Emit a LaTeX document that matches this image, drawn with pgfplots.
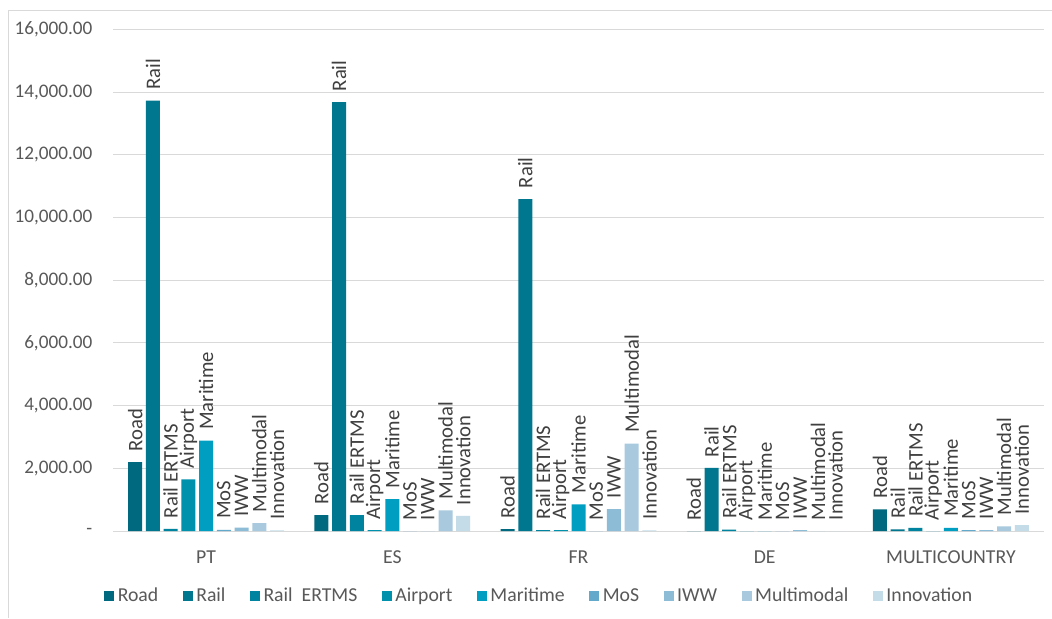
\documentclass[border=0pt]{standalone}
\usepackage{pgfplots}
\pgfplotsset{compat=1.18}
\usepackage{fontspec}
\setmainfont{Carlito}

\definecolor{cRoad}{HTML}{00697F}
\definecolor{cRail}{HTML}{00768F}
\definecolor{cERTMS}{HTML}{00839E}
\definecolor{cAirport}{HTML}{0091AD}
\definecolor{cMaritime}{HTML}{009FC2}
\definecolor{cMoS}{HTML}{63A9CB}
\definecolor{cIWW}{HTML}{8DBCD6}
\definecolor{cMulti}{HTML}{A9CADE}
\definecolor{cInno}{HTML}{C4DCE8}
\definecolor{gridgray}{HTML}{D9D9D9}
\definecolor{tickgray}{HTML}{595959}
\definecolor{labelgray}{HTML}{404040}

\begin{document}
\begin{tikzpicture}
\useasboundingbox (0,0) rectangle (789pt,463.5pt);
\fill[white] (0,0) rectangle (789pt,463.5pt);
% chart frame
\draw[gridgray, line width=0.75pt] (6pt,0) -- (6pt,455.25pt) -- (789pt,455.25pt);
\begin{axis}[
  at={(84.75pt,65.25pt)}, anchor=south west,
  scale only axis, width=698.25pt, height=376.2pt,
  ybar=2.8pt, bar width=10.5pt,
  xmin=-0.5, xmax=4.5, ymin=0, ymax=16000,
  scaled y ticks=false,
  xtick={0,1,2,3,4},
  xticklabels={PT,ES,FR,DE,MULTICOUNTRY},
  ytick={0,2000,4000,6000,8000,10000,12000,14000,16000},
  yticklabels={{-\hspace{6pt}},{2,000.00},{4,000.00},{6,000.00},{8,000.00},{10,000.00},{12,000.00},{14,000.00},{16,000.00}},
  ymajorgrids,
  grid style={draw=gridgray, line width=0.75pt},
  axis x line*=bottom, axis y line*=left,
  axis line style={draw=none},
  major tick length=0pt,
  ticklabel style={font=\fontsize{14.4}{16}\selectfont, text=tickgray},
  xticklabel style={yshift=-11pt, font=\fontsize{14.8}{16}\selectfont},
  yticklabel style={xshift=-12pt},
  every node near coord/.append style={rotate=90, anchor=west, inner xsep=8pt, inner ysep=0pt,
    font=\fontsize{15.5}{17}\selectfont, text=labelgray},
  legend columns=9,
  legend style={at={(0.4586,-0.1296)}, anchor=center, draw=none, fill=none,
    font=\fontsize{14.8}{16}\selectfont, text=tickgray,
    nodes={inner xsep=2.5pt},
    /tikz/every even column/.append style={column sep=16pt}},
  legend image code/.code={\fill[#1,draw=none] (0pt,-3.75pt) rectangle (7.5pt,3.75pt);},
]
\addplot[fill=cRoad, draw=none, nodes near coords={Road}]
  coordinates {(0,2200) (1,510) (2,60) (3,0) (4,690)};
\addplot[fill=cRail, draw=none, nodes near coords={Rail}]
  coordinates {(0,13730) (1,13680) (2,10590) (3,2010) (4,55)};
\addplot[fill=cERTMS, draw=none, nodes near coords={Rail ERTMS}]
  coordinates {(0,65) (1,510) (2,30) (3,45) (4,100)};
\addplot[fill=cAirport, draw=none, nodes near coords={Airport}]
  coordinates {(0,1650) (1,30) (2,30) (3,0) (4,0)};
\addplot[fill=cMaritime, draw=none, nodes near coords={Maritime}]
  coordinates {(0,2880) (1,1020) (2,850) (3,0) (4,100)};
\addplot[fill=cMoS, draw=none, nodes near coords={MoS}]
  coordinates {(0,40) (1,0) (2,0) (3,0) (4,30)};
\addplot[fill=cIWW, draw=none, nodes near coords={IWW}]
  coordinates {(0,105) (1,0) (2,700) (3,30) (4,30)};
\addplot[fill=cMulti, draw=none, nodes near coords={Multimodal}]
  coordinates {(0,255) (1,660) (2,2785) (3,0) (4,150)};
\addplot[fill=cInno, draw=none, nodes near coords={Innovation}]
  coordinates {(0,20) (1,480) (2,20) (3,0) (4,185)};
\legend{Road,Rail,Rail\ \ ERTMS,Airport,Maritime,MoS,IWW,Multimodal,Innovation}
\end{axis}
\end{tikzpicture}
\end{document}
